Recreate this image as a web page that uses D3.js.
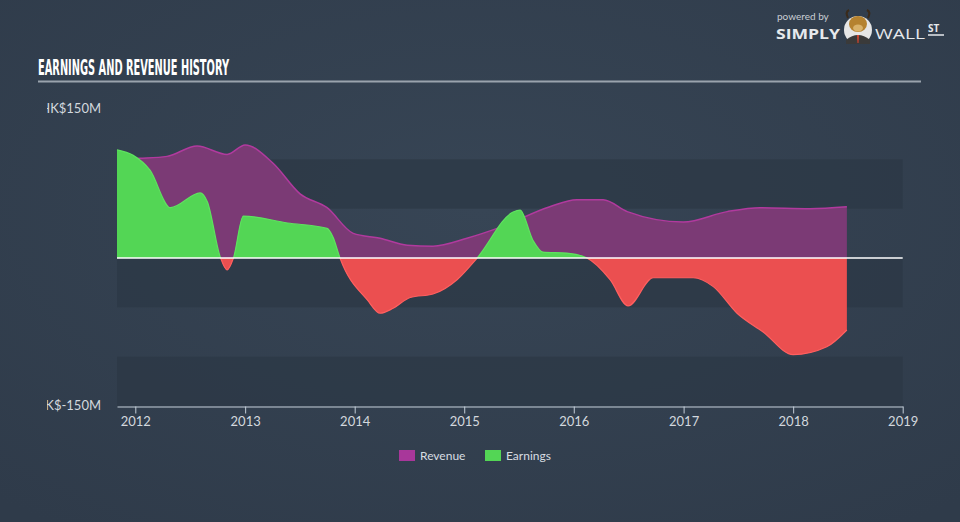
<!DOCTYPE html>
<html>
<head>
<meta charset="utf-8">
<script src="https://cdn.jsdelivr.net/npm/d3@7/dist/d3.min.js"></script>
<style>
  html, body { margin: 0; padding: 0; background: #333f4f; }
  svg { display: block; }
</style>
</head>
<body>
<svg id="chart" width="960" height="522"></svg>
<script>
// ---- data (values in HK$ millions) ----
const revenueDates = ["2011-11-01","2012-01-17","2012-04-16","2012-07-25","2012-11-02","2013-01-01","2013-04-04","2013-07-03","2013-10-01","2013-12-27","2014-03-27","2014-06-25","2014-09-19","2015-01-10","2015-04-30","2015-10-13","2016-01-11","2016-04-08","2016-06-27","2016-12-31","2017-05-26","2017-09-13","2018-02-26","2018-06-29"];
const revenueValues = [100, 101, 103, 113.5, 105, 114.5, 96, 65, 51, 25, 20, 13, 12, 20, 31, 52, 59, 59, 47, 36.5, 47, 51, 50, 52];

const earningsDates = ["2011-11-01","2011-12-25","2012-02-19","2012-04-27","2012-08-04","2012-08-28","2012-10-10","2012-11-02","2012-11-23","2012-12-26","2013-05-22","2013-10-01","2013-10-21","2013-11-13","2014-02-12","2014-03-27","2014-05-09","2014-07-05","2014-09-19","2014-12-08","2015-02-13","2015-06-13","2015-07-06","2015-08-18","2015-09-20","2015-12-09","2016-02-14","2016-05-01","2016-06-30","2016-09-22","2017-02-02","2017-04-10","2017-06-28","2017-09-23","2018-01-01","2018-04-23","2018-06-29"];
const earningsValues = [109.5, 104, 89, 51, 66, 57, 1, -12, 0, 42.5, 35.5, 30, 21, 0, -42.5, -56, -51, -40, -36.5, -22, 0, 46.6, 48.6, 18, 6, 5, 0, -22, -48.6, -20, -20, -29, -56, -75, -98, -90, -73];

const yearTicks = ["2012","2013","2014","2015","2016","2017","2018","2019"];
const yLabels = ["HK$150M", "HK$-150M"];
const yLabelValues = [150, -150];
const bandRanges = [[50, 100], [-50, 0], [-150, -100]];
const seriesNames = ["Revenue", "Earnings"];
const title = "EARNINGS AND REVENUE HISTORY";

// ---- setup ----
const parse = d3.timeParse("%Y-%m-%d");
const revenue = revenueDates.map((d, i) => ({ date: parse(d), value: revenueValues[i] }));
const earnings = earningsDates.map((d, i) => ({ date: parse(d), value: earningsValues[i] }));

const svg = d3.select("#chart");
const W = 960, H = 522;

const defs = svg.append("defs");
const grad = defs.append("radialGradient").attr("id", "bg").attr("cx", "50%").attr("cy", "40%").attr("r", "75%");
grad.append("stop").attr("offset", "0%").attr("stop-color", "#374555");
grad.append("stop").attr("offset", "100%").attr("stop-color", "#2f3b4a");
svg.append("rect").attr("width", W).attr("height", H).attr("fill", "url(#bg)");

const x = d3.scaleTime()
  .domain([parse("2011-11-01"), parse("2019-01-01")])
  .range([117, 902.7]);
const y = d3.scaleLinear().domain([-150, 150]).range([406, 110]);

// bands
svg.append("g").selectAll("rect").data(bandRanges).join("rect")
  .attr("x", x.range()[0])
  .attr("width", x.range()[1] - x.range()[0])
  .attr("y", d => y(d[1]))
  .attr("height", d => y(d[0]) - y(d[1]))
  .attr("fill", "#2c3846")
  .attr("opacity", 0.75);

// title
svg.append("text")
  .attr("x", 38).attr("y", 75)
  .attr("fill", "#ffffff")
  .attr("font-family", "'Liberation Sans Narrow', 'DejaVu Sans Condensed', sans-serif")
  .attr("font-weight", "bold")
  .attr("font-size", 21)
  .attr("textLength", 191)
  .attr("lengthAdjust", "spacingAndGlyphs")
  .text(title);
svg.append("line")
  .attr("x1", 38).attr("x2", 921).attr("y1", 81.5).attr("y2", 81.5)
  .attr("stroke", "#9aa3ad").attr("stroke-width", 2);

// y labels (clipped at left)
defs.append("clipPath").attr("id", "ylabclip").append("rect")
  .attr("x", 47).attr("y", 0).attr("width", 100).attr("height", H);
svg.append("g").attr("clip-path", "url(#ylabclip)")
  .selectAll("text").data(yLabels).join("text")
  .attr("x", 101)
  .attr("y", (d, i) => y(yLabelValues[i]) + (i === 0 ? -2 : -1))
  .attr("dy", "0.35em")
  .attr("text-anchor", "end")
  .attr("fill", "#d3d8de")
  .attr("font-family", "Lato, 'Open Sans', sans-serif")
  .attr("font-size", 13)
  .text(d => d);

// revenue area
const curve = d3.curveMonotoneX;
const revArea = d3.area().x(d => x(d.date)).y0(y(0)).y1(d => y(d.value)).curve(curve);
const revLine = d3.line().x(d => x(d.date)).y(d => y(d.value)).curve(curve);
svg.append("path").datum(revenue).attr("d", revArea).attr("fill", "#7b3a75");
svg.append("path").datum(revenue).attr("d", revLine).attr("fill", "none")
  .attr("stroke", "#b13a9e").attr("stroke-width", 1.5);

// earnings area split by sign
defs.append("clipPath").attr("id", "pos").append("rect")
  .attr("x", 0).attr("y", 0).attr("width", W).attr("height", y(0));
defs.append("clipPath").attr("id", "neg").append("rect")
  .attr("x", 0).attr("y", y(0)).attr("width", W).attr("height", H - y(0));
const earnArea = d3.area().x(d => x(d.date)).y0(y(0)).y1(d => y(d.value)).curve(curve);
const earnLine = d3.line().x(d => x(d.date)).y(d => y(d.value)).curve(curve);
const pos = svg.append("g").attr("clip-path", "url(#pos)");
pos.append("path").datum(earnings).attr("d", earnArea).attr("fill", "#53d655");
pos.append("path").datum(earnings).attr("d", earnLine).attr("fill", "none").attr("stroke", "#5ee35f").attr("stroke-width", 1.2);
const neg = svg.append("g").attr("clip-path", "url(#neg)");
neg.append("path").datum(earnings).attr("d", earnArea).attr("fill", "#eb4f50");
neg.append("path").datum(earnings).attr("d", earnLine).attr("fill", "none").attr("stroke", "#ff5f5f").attr("stroke-width", 1.2);

// zero line
svg.append("line")
  .attr("x1", x.range()[0]).attr("x2", x.range()[1])
  .attr("y1", y(0)).attr("y2", y(0))
  .attr("stroke", "#ffffff").attr("stroke-width", 1.5);

// x axis
const xAxis = d3.axisBottom(x)
  .tickValues(yearTicks.map(t => parse(t + "-01-01")))
  .tickFormat(d3.timeFormat("%Y"))
  .tickSize(7)
  .tickSizeOuter(0)
  .tickPadding(3);
const gx = svg.append("g").attr("transform", `translate(0,${y(-150) + 0.5})`).call(xAxis);
gx.select(".domain").attr("stroke", "#c3cdd8").attr("stroke-width", 1.2);
gx.selectAll(".tick line").attr("stroke", "#c3cdd8");
gx.selectAll(".tick text")
  .attr("fill", "#d3d8de")
  .attr("font-family", "Lato, 'Open Sans', sans-serif")
  .attr("font-size", 13);

// legend
const legendColors = ["#a8379a", "#53d655"];
const legendX = [399, 485];
const lg = svg.append("g");
lg.selectAll("rect").data(seriesNames).join("rect")
  .attr("x", (d, i) => legendX[i]).attr("y", 450)
  .attr("width", 16).attr("height", 11)
  .attr("fill", (d, i) => legendColors[i]);
lg.selectAll("text").data(seriesNames).join("text")
  .attr("x", (d, i) => legendX[i] + 21).attr("y", 460)
  .attr("fill", "#d8dde2")
  .attr("font-family", "Lato, 'Open Sans', sans-serif")
  .attr("font-size", 12)
  .text(d => d);

// logo
const logo = svg.append("g");
logo.append("text").attr("x", 777).attr("y", 20)
  .attr("fill", "#c9ced4").attr("font-family", "Lato, 'Open Sans', sans-serif")
  .attr("font-size", 10).text("powered by");
logo.append("text").attr("x", 776).attr("y", 39)
  .attr("fill", "#e6e9ec").attr("font-family", "'Open Sans', Lato, sans-serif")
  .attr("font-weight", "bold").attr("font-size", 15).attr("textLength", 64)
  .attr("lengthAdjust", "spacingAndGlyphs").text("SIMPLY");
logo.append("circle").attr("cx", 858).attr("cy", 30).attr("r", 14).attr("fill", "#e6e6e6");
logo.append("path").attr("d", "M846,40 Q858,30 870,40 L870,44 L846,44 Z").attr("fill", "#3a3a3a");
logo.append("ellipse").attr("cx", 858).attr("cy", 24).attr("rx", 9).attr("ry", 8).attr("fill", "#b5822f");
logo.append("ellipse").attr("cx", 858).attr("cy", 28).attr("rx", 5).attr("ry", 3.5).attr("fill", "#d9b26a");
logo.append("path").attr("d", "M848,18 Q845,12 849,10 M868,18 Q871,12 867,10").attr("stroke", "#3a2a1a").attr("stroke-width", 2).attr("fill", "none");
logo.append("path").attr("d", "M857,35 L859,35 L858.5,43 L857.5,43 Z").attr("fill", "#d6452f");
logo.append("text").attr("x", 875).attr("y", 39)
  .attr("fill", "#e6e9ec").attr("font-family", "'Open Sans', Lato, sans-serif")
  .attr("font-size", 15).attr("textLength", 50)
  .attr("lengthAdjust", "spacingAndGlyphs").text("WALL");
logo.append("text").attr("x", 928).attr("y", 32)
  .attr("fill", "#e6e9ec").attr("font-family", "'Open Sans', Lato, sans-serif")
  .attr("font-weight", "bold").attr("font-size", 10).text("ST");
logo.append("line").attr("x1", 928).attr("x2", 944).attr("y1", 35).attr("y2", 35)
  .attr("stroke", "#e6e9ec").attr("stroke-width", 1.5);
</script>
</body>
</html>
